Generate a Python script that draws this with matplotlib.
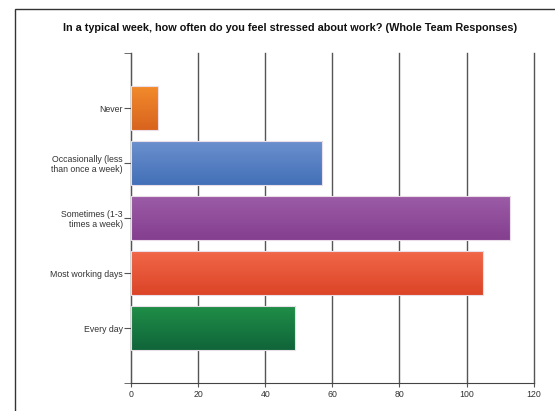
import numpy as np
import matplotlib.pyplot as plt
from matplotlib.patches import Rectangle
from matplotlib.colors import LinearSegmentedColormap

plt.rcParams['font.family'] = ['Liberation Sans', 'DejaVu Sans']

#### datos
categorias = ['Never', 'Occasionally (less\nthan once a week)', 'Sometimes (1-3\ntimes a week)',
              'Most working days', 'Every day']
respuestas = [8, 57, 113, 105, 49]
colores_top = ['#f28b2c', '#6b90cd', '#9c5ca6', '#f26749', '#1f8e47']
colores_bot = ['#d8631e', '#4370b8', '#843f8f', '#db4427', '#10653a']
ticks_x = [0, 20, 40, 60, 80, 100, 120]

fig = plt.figure(figsize=(5.55, 4.11), dpi=100)
ax = fig.add_axes([131/555, 1 - 383/411, (533.7 - 131)/555, (383 - 53)/411])

# marco exterior
fig.patches.append(Rectangle((15/555, -0.1), 1.2, 1.1 - 9/411, transform=fig.transFigure,
                             fill=False, edgecolor='#333333', linewidth=1.0))

ypos = np.arange(len(categorias))
barras = ax.barh(ypos, respuestas, height=0.79, color='none', edgecolor='#eadfe8',
                 linewidth=0.8, zorder=3)

### degradado vertical en cada barra
for b, c1, c2 in zip(barras, colores_top, colores_bot):
    cmap = LinearSegmentedColormap.from_list('g', [c1, c2])
    x0, y0 = b.get_x(), b.get_y()
    w, h = b.get_width(), b.get_height()
    grad = np.linspace(0, 1, 64).reshape(-1, 1)
    im = ax.imshow(grad, cmap=cmap, aspect='auto', extent=(x0, x0 + w, y0 + h, y0),
                   origin='upper', zorder=2)
    im.set_clip_path(b)

ax.set_xlim(0, 120)
ax.set_ylim(5.0, -1.0)
ax.set_xticks(ticks_x)
ax.set_yticks(ypos)
ax.set_yticklabels(categorias, multialignment='right')
ax.set_yticks([-1.0, 5.0], minor=True)

ax.grid(axis='x', color='#555555', linewidth=1.0, zorder=1)
for gl in ax.get_xgridlines():
    gl.set_clip_on(False)
for s in ['top', 'right']:
    ax.spines[s].set_visible(False)
ax.spines['left'].set_color('#555555')
ax.spines['bottom'].set_color('#444444')
ax.tick_params(axis='y', which='both', length=5, color='#555555', labelsize=6.3,
               labelcolor='#333333', pad=1)
ax.tick_params(axis='x', length=3, color='#555555', labelsize=6.3, labelcolor='#333333', pad=2)

fig.text(0.523, 1 - 28/411, 'In a typical week, how often do you feel stressed about work? (Whole Team Responses)',
         ha='center', va='center', fontsize=7.8, fontweight='bold', color='#111111')

fig.savefig('out.png', dpi=100)
